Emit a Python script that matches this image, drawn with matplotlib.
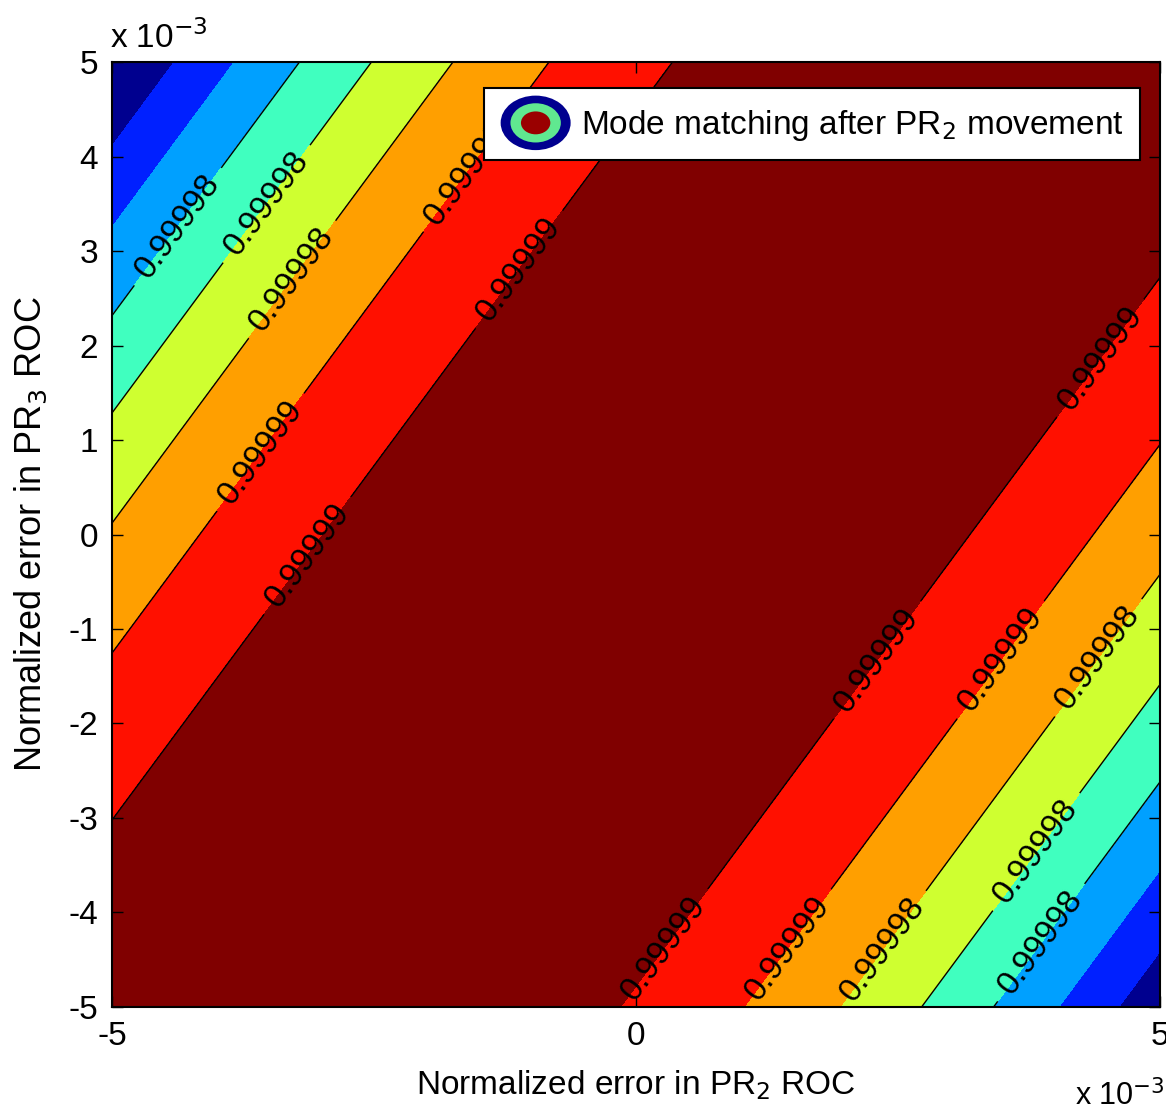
import numpy as np
import matplotlib
matplotlib.use("Agg")
import matplotlib.pyplot as plt
from matplotlib.patches import Ellipse, Patch
from matplotlib.legend_handler import HandlerBase

plt.rcParams["axes.unicode_minus"] = False

# ---- data (axes in units of 1e-3) ----
x_limits = [-5, 5]
y_limits = [-5, 5]
peak_value = 0.9999933          # mode matching on the ridge
curvature = 1.54e-7             # drop per (1e-3)^2 of ridge offset
ridge_slope = 1.5               # PR3 error vs PR2 error along ridge
ridge_offset = -0.15            # ridge intercept (1e-3)
levels = [0.999972, 0.999975, 0.999978, 0.999981, 0.999984, 0.999987, 0.99999]
level_labels = ["0.99997", "0.99998", "0.99998", "0.99998", "0.99998", "0.99999", "0.99999"]
lined_levels = [0.999978, 0.999981, 0.999984, 0.999987, 0.99999]
x_ticks = [-5, 0, 5]
y_ticks = [-5, -4, -3, -2, -1, 0, 1, 2, 3, 4, 5]
legend_label = "Mode matching after PR$_2$ movement"
x_label = "Normalized error in PR$_2$ ROC"
y_label = "Normalized error in PR$_3$ ROC"

# MATLAB jet colours of the eight bands (lowest to highest)
band_colors = ["#00008F", "#0020FF", "#00A0FF", "#40FFBF",
               "#CFFF30", "#FF9F00", "#FF1000", "#800000"]

# label anchor points (data coords) where the contour labels sit
label_spots = [(-4.35, 3.24), (-3.49, 3.47), (-3.27, 2.69), (-3.52, 0.82), (-3.04, -0.30),
               (-1.58, 3.80), (-1.11, 2.80),
               (2.17, -1.22), (4.33, 1.95), (0.30, -4.40), (1.44, -4.37), (2.36, -4.40),
               (3.35, -1.22), (4.27, -1.19), (3.76, -3.31), (3.83, -4.29)]

FONT = ["Liberation Sans", "DejaVu Sans"]

xs = np.linspace(x_limits[0], x_limits[1], 401)
ys = np.linspace(y_limits[0], y_limits[1], 401)
X, Y = np.meshgrid(xs, ys)
Z = peak_value - curvature * (Y - ridge_slope * X - ridge_offset) ** 2

fig = plt.figure(figsize=(11.66, 11.16), dpi=100)
ax = fig.add_axes([0.0961, 0.0977, 0.8988, 0.8467])

fill_levels = [Z.min() - 1e-9] + levels + [Z.max() + 1e-9]
ax.contourf(X, Y, Z, levels=fill_levels, colors=band_colors)
cs = ax.contour(X, Y, Z, levels=lined_levels, colors="k", linewidths=1.0)
fmt = dict(zip(levels, level_labels))
lbls = ax.clabel(cs, fmt={lv: fmt[lv] for lv in cs.levels}, manual=label_spots,
                 inline=True, inline_spacing=4, fontsize=24)
for t in lbls:
    t.set_family(FONT)

ax.set_xlim(x_limits)
ax.set_ylim(y_limits)
ax.set_xticks(x_ticks)
ax.set_yticks(y_ticks)
ax.tick_params(direction="in", top=True, right=True, length=8, width=1, pad=10)
for lab in ax.get_xticklabels() + ax.get_yticklabels():
    lab.set_family(FONT)
    lab.set_fontsize(24)
for s in ax.spines.values():
    s.set_linewidth(1.5)

ax.set_xlabel(x_label, family=FONT, fontsize=24, labelpad=12)
ax.set_ylabel(y_label, family=FONT, fontsize=26, labelpad=14)

fig.text(0.094, 0.951, "x 10$^{-3}$", family=FONT, fontsize=24, ha="left", va="bottom")
fig.text(0.922, 0.003, "x 10$^{-3}$", family=FONT, fontsize=22, ha="left", va="bottom")


class ContourIcon(HandlerBase):
    def create_artists(self, legend, orig_handle, xdescent, ydescent, width, height,
                       fontsize, trans):
        cx = width / 2 - xdescent
        cy = height / 2 - ydescent
        arts = []
        for sc, col in [(1.0, "#00008F"), (0.72, "#60E890"), (0.42, "#9A0000")]:
            e = Ellipse((cx, cy), width * sc, height * 1.5 * sc, facecolor=col,
                        edgecolor="none", transform=trans)
            arts.append(e)
        return arts


proxy = Patch()
leg = ax.legend([proxy], [legend_label], handler_map={Patch: ContourIcon()},
                loc="upper right", bbox_to_anchor=(0.981, 0.9725),
                prop={"family": FONT, "size": 24}, fancybox=False,
                framealpha=1, edgecolor="k", handlelength=2.1, handleheight=1.3,
                borderpad=0.5, handletextpad=0.3, borderaxespad=0)
leg.get_frame().set_linewidth(1.5)
leg.set_zorder(10)

fig.savefig("out.png", dpi=100)
